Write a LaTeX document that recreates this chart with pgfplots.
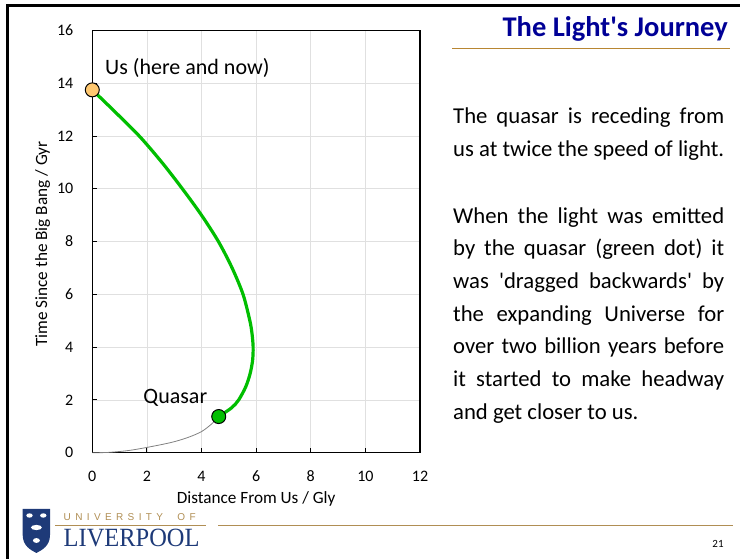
\documentclass[border=0pt]{standalone}
\usepackage{fontspec}
\setmainfont{Carlito}
\newfontfamily\serifLiv{Liberation Serif}
\newfontfamily\sansLiv{Liberation Sans}
\usepackage{pgfplots}
\pgfplotsset{compat=1.18}
\definecolor{titleblue}{RGB}{0,0,150}
\definecolor{titlegold}{RGB}{184,134,50}
\definecolor{footgold}{RGB}{176,142,84}
\definecolor{livblue}{RGB}{30,58,120}
\definecolor{lightgreen}{RGB}{0,190,0}
\definecolor{dotorange}{RGB}{255,200,112}
\definecolor{gridgray}{RGB}{224,224,224}
\begin{document}
\begin{tikzpicture}[x=1pt,y=1pt]
\path[use as bounding box] (0pt,0pt) rectangle (740pt,559pt);
% slide frame
\draw[line width=3pt] (6pt,553pt) -- (740pt,553pt);
\draw[line width=3pt] (7.7pt,0pt) -- (7.7pt,554.5pt);
% title
\node[anchor=base east, inner sep=0, text=titleblue, font=\fontsize{28.5}{28.5}\selectfont\bfseries] at (728pt,522.3pt) {The Light\textquotesingle s Journey};
\draw[titlegold, line width=1.3pt] (452pt,510.7pt) -- (730pt,510.7pt);
% body text
\begin{scope}[every node/.style={anchor=base west, inner sep=0, font=\fontsize{22.7}{32.7}\selectfont}]
\node at (453pt,435pt) {\makebox[271pt][s]{The quasar is receding from}};
\node at (453pt,402pt) {us at twice the speed of light.};
\node at (453pt,335.5pt) {\makebox[271pt][s]{When the light was emitted}};
\node at (453pt,303pt) {\makebox[271pt][s]{by the quasar (green dot) it}};
\node at (453pt,270pt) {\makebox[271pt][s]{was \textquotesingle dragged backwards\textquotesingle\ by}};
\node at (453pt,237.5pt) {\makebox[271pt][s]{the expanding Universe for}};
\node at (453pt,205pt) {\makebox[271pt][s]{over two billion years before}};
\node at (453pt,172pt) {\makebox[271pt][s]{it started to make headway}};
\node at (453pt,139pt) {and get closer to us.};
\end{scope}
% footer
\draw[footgold, line width=0.9pt] (55pt,34pt) -- (206pt,34pt);
\draw[footgold, line width=0.9pt] (218pt,34pt) -- (733pt,34pt);
\node[anchor=west, inner sep=0, text=footgold, font=\sansLiv\fontsize{10}{10}\selectfont] at (63.5pt,42.3pt) {\makebox[132pt][s]{U N I V E R S I T Y \quad O F}};
\node[anchor=base west, inner sep=0, text=livblue, font=\serifLiv\fontsize{26.3}{26.3}\selectfont] at (63.5pt,12.3pt) {\scalebox{0.93}[1]{LIVERPOOL}};
\fill[livblue] (22.7pt,50pt) -- (50pt,50pt) -- (50pt,24pt) .. controls (50pt,13pt) and (42pt,9pt) .. (36.4pt,6pt) .. controls (30.8pt,9pt) and (22.7pt,13pt) .. (22.7pt,24pt) -- cycle;
\fill[white] (29.5pt,43.5pt) ellipse (3.2pt and 2.2pt);
\fill[white] (43.3pt,43.5pt) ellipse (3.2pt and 2.2pt);
\fill[white] (36.4pt,31.5pt) ellipse (5.5pt and 2.6pt);
\fill[white] (36.4pt,18.5pt) ellipse (3.5pt and 2.4pt);
\node[anchor=center, inner sep=0, font=\fontsize{11}{11}\selectfont] at (718pt,15pt) {21};
% chart
\begin{axis}[
  at={(92.3pt,106.3pt)}, anchor=south west,
  scale only axis, width=327.7pt, height=422.2pt,
  xmin=0, xmax=12, ymin=0, ymax=16,
  xtick={0,2,4,6,8,10,12}, ytick={0,2,4,6,8,10,12,14,16},
  grid=major, major grid style={draw=gridgray, line width=0.8pt},
  axis line style={line width=1.2pt, black},
  tick align=inside, tick pos=left,
  major tick length=4.5pt, tick style={black, line width=1pt},
  /pgf/number format/assume math mode=true,
  tick label style={font=\fontsize{16}{16}\selectfont, inner sep=0pt},
  xticklabel style={anchor=north, yshift=-18pt},
  yticklabel style={anchor=east, xshift=-18.8pt},
  xlabel={Distance From Us / Gly},
  ylabel={Time Since the Big Bang / Gyr},
  label style={font=\fontsize{17.2}{17.2}\selectfont, inner sep=0pt},
  xlabel style={at={(axis description cs:0.5,-0.1199)}, anchor=base},
  ylabel style={at={(axis description cs:-0.1382,0.494)}, anchor=base},
  clip=false,
]
\addplot[gray, line width=0.8pt, smooth] coordinates {
 (0,0) (0.57,0.01) (1.31,0.08) (2.0,0.2) (2.9,0.39) (3.51,0.58) (4.0,0.80) (4.37,1.09) (4.63,1.37)
};
\addplot[lightgreen, line width=3.2pt, smooth] coordinates {
 (0,13.75) (0.75,13.0) (1.72,12.0) (2.55,11.0) (3.30,10.0) (4.00,9.0) (4.62,8.0)
 (5.12,7.0) (5.52,6.0) (5.77,5.0) (5.85,4.5) (5.89,4.0) (5.87,3.5) (5.78,3.0)
 (5.62,2.5) (5.36,2.0) (5.10,1.7) (4.63,1.37)
};
\addplot[only marks, mark=*, mark size=7pt, mark options={fill=dotorange, draw=black, line width=1pt}] coordinates {(0,13.75)};
\addplot[only marks, mark=*, mark size=7pt, mark options={fill=lightgreen, draw=black, line width=1pt}] coordinates {(4.63,1.37)};
\node[anchor=base west, inner sep=0, font=\fontsize{22}{22}\selectfont] at (axis cs:0.465,14.35) {Us (here and now)};
\node[anchor=base west, inner sep=0, font=\fontsize{22}{22}\selectfont] at (axis cs:1.867,1.872) {Quasar};
\end{axis}
\end{tikzpicture}
\end{document}
